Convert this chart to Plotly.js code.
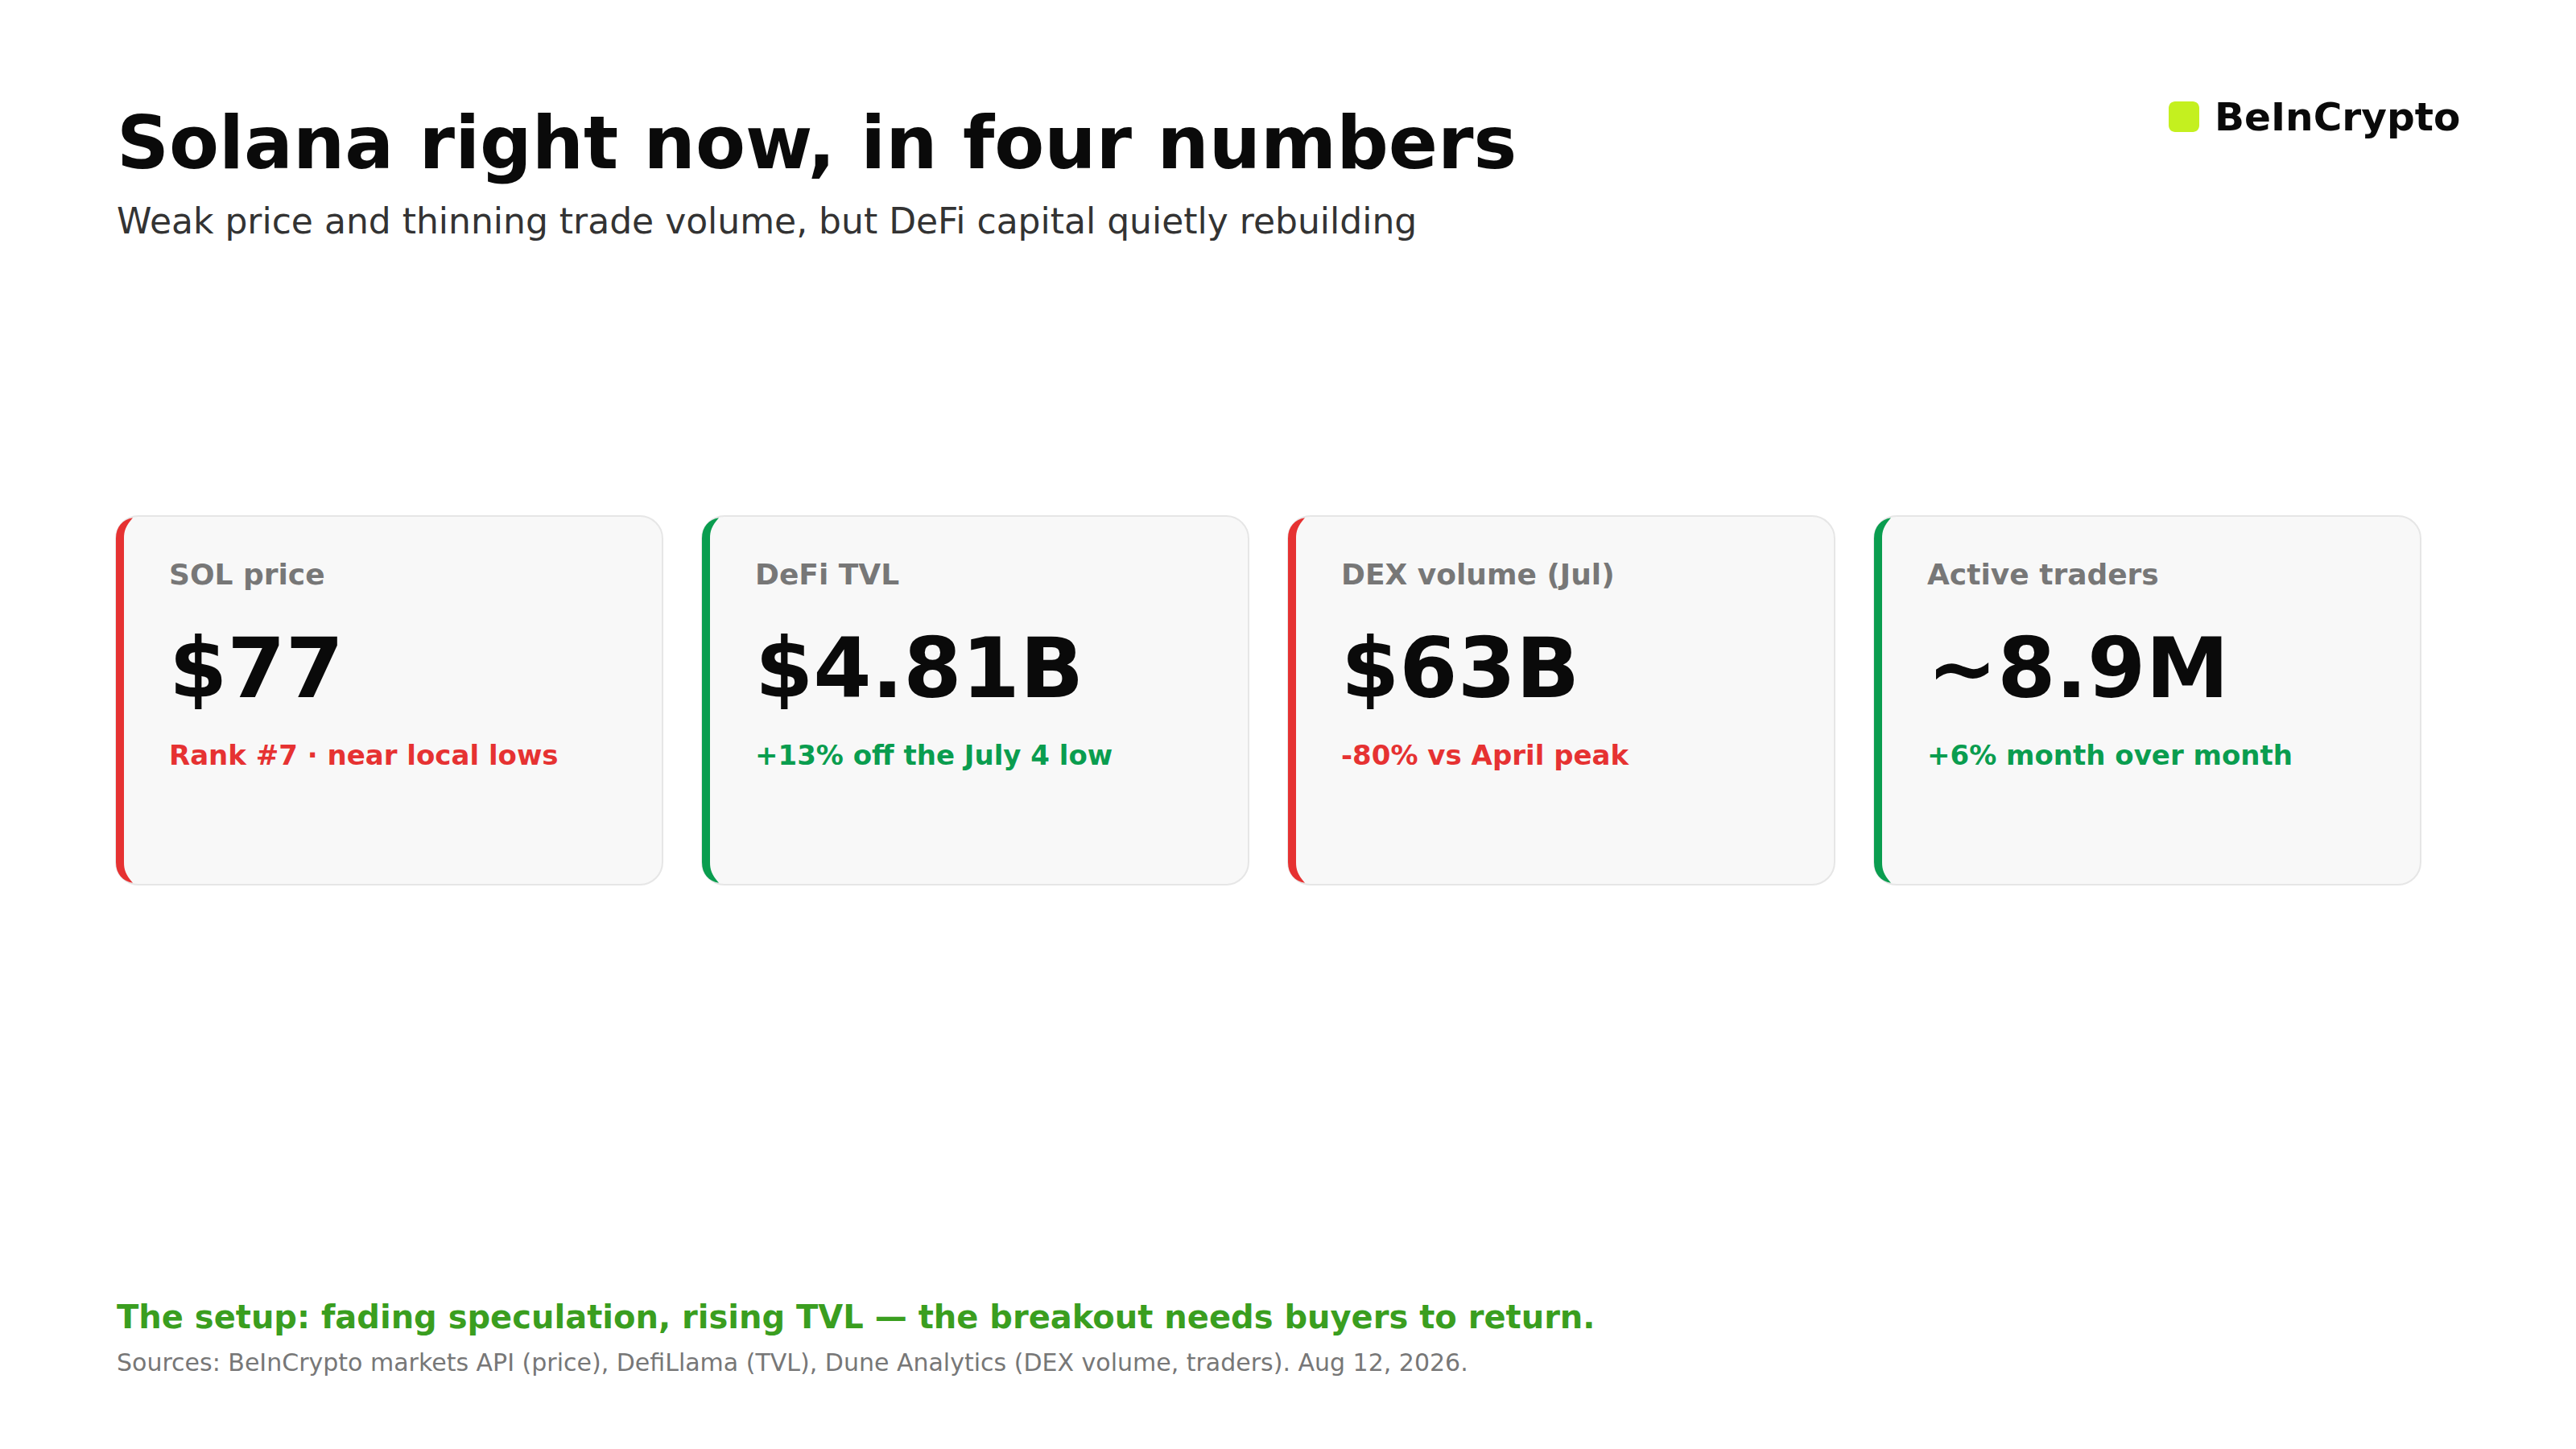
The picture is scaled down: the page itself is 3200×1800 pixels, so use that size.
<!DOCTYPE html>
<html>
<head>
<meta charset="utf-8">
<script src="https://cdn.plot.ly/plotly-3.0.1.min.js"></script>
<style>
  html, body { margin: 0; padding: 0; background: #ffffff; }
</style>
</head>
<body>
<div id="chart" style="width:3200px;height:1800px"></div>
<script>
var labels = ["SOL price", "DeFi TVL", "DEX volume (Jul)", "Active traders"];
var values = ["$77", "$4.81B", "$63B", "~8.9M"];
var notes = ["Rank #7 · near local lows", "+13% off the July 4 low", "-80% vs April peak", "+6% month over month"];
var trends = ["down", "up", "down", "up"];

var titleText = "Solana right now, in four numbers";
var subtitleText = "Weak price and thinning trade volume, but DeFi capital quietly rebuilding";
var takeawayText = "The setup: fading speculation, rising TVL — the breakout needs buyers to return.";
var sourceText = "Sources: BeInCrypto markets API (price), DefiLlama (TVL), Dune Analytics (DEX volume, traders). Aug 12, 2026.";
var brandText = "BeInCrypto";

var trendColor = { up: "#0a9d4f", down: "#e63232" };
var FONT = "DejaVu Sans, sans-serif";

var cardW = 679, cardGap = 49, cardLeft = 144, cardTop = 641, cardBottom = 1099, radius = 28, accent = 10;

function text(str, x, y, size, color, bold) {
  return {
    text: bold ? "<b>" + str + "</b>" : str,
    x: x, y: y, xref: "x", yref: "y",
    xanchor: "left", yanchor: "middle",
    showarrow: false, borderpad: 0,
    font: { family: FONT, size: size, color: color }
  };
}

// rounded rectangle as a path, the axes only know beziers
function roundRect(x0, y0, x1, y1, r) {
  var k = r * 0.45;
  return "M" + (x0 + r) + "," + y0 + " L" + (x1 - r) + "," + y0 +
    " C" + (x1 - k) + "," + y0 + " " + x1 + "," + (y0 + k) + " " + x1 + "," + (y0 + r) +
    " L" + x1 + "," + (y1 - r) +
    " C" + x1 + "," + (y1 - k) + " " + (x1 - k) + "," + y1 + " " + (x1 - r) + "," + y1 +
    " L" + (x0 + r) + "," + y1 +
    " C" + (x0 + k) + "," + y1 + " " + x0 + "," + (y1 - k) + " " + x0 + "," + (y1 - r) +
    " L" + x0 + "," + (y0 + r) +
    " C" + x0 + "," + (y0 + k) + " " + (x0 + k) + "," + y0 + " " + (x0 + r) + "," + y0 + " Z";
}

// left border of the card, tapers off into the corners
function accentPath(x0, y0, y1, r, w) {
  var k = r * 0.45, tipX = x0 + r * 0.75, tipDy = r * 0.08;
  return "M" + tipX + "," + (y0 + tipDy) +
    " C" + (x0 + k * 0.7) + "," + (y0 + tipDy * 2) + " " + x0 + "," + (y0 + k) + " " + x0 + "," + (y0 + r) +
    " L" + x0 + "," + (y1 - r) +
    " C" + x0 + "," + (y1 - k) + " " + (x0 + k * 0.7) + "," + (y1 - tipDy * 2) + " " + tipX + "," + (y1 - tipDy) +
    " C" + (x0 + w + 2) + "," + (y1 - k) + " " + (x0 + w) + "," + (y1 - k - 6) + " " + (x0 + w) + "," + (y1 - r) +
    " L" + (x0 + w) + "," + (y0 + r) +
    " C" + (x0 + w) + "," + (y0 + k + 6) + " " + (x0 + w + 2) + "," + (y0 + k) + " " + tipX + "," + (y0 + tipDy) + " Z";
}

var shapes = [];
var annotations = [
  text(titleText, 144, 177, 90.3, "#0a0a0a", true),
  text(subtitleText, 144, 274, 44, "#333333", false),
  text(takeawayText, 144, 1636, 40, "#3a9e1f", true),
  text(sourceText, 144, 1692, 30, "#777777", false),
  text(brandText, 2750, 145, 48.6, "#0a0a0a", true)
];

shapes.push({
  type: "path", xref: "x", yref: "y",
  path: roundRect(2694, 126, 2732, 164, 8),
  fillcolor: "#c4f01f", line: { width: 0 }
});

labels.forEach(function (label, i) {
  var x0 = cardLeft + i * (cardW + cardGap);
  var color = trendColor[trends[i]];
  shapes.push({
    type: "path", xref: "x", yref: "y",
    path: roundRect(x0, cardTop, x0 + cardW, cardBottom, radius),
    fillcolor: "#f8f8f8", line: { color: "#e6e6e6", width: 2 }
  });
  shapes.push({
    type: "path", xref: "x", yref: "y",
    path: accentPath(x0, cardTop, cardBottom, radius, accent),
    fillcolor: color, line: { width: 0 }
  });
  annotations.push(text(label, x0 + 65, 713, 36, "#777777", true));
  annotations.push(text(values[i], x0 + 65, 830, 104, "#0a0a0a", true));
  annotations.push(text(notes[i], x0 + 65, 938, 34, color, true));
});

var layout = {
  width: 3200,
  height: 1800,
  margin: { l: 0, r: 0, t: 0, b: 0 },
  paper_bgcolor: "#ffffff",
  plot_bgcolor: "#ffffff",
  showlegend: false,
  xaxis: { range: [0, 3200], visible: false, fixedrange: true },
  yaxis: { range: [1800, 0], visible: false, fixedrange: true },
  shapes: shapes,
  annotations: annotations
};

Plotly.newPlot("chart", [], layout, { displayModeBar: false, staticPlot: true });
</script>
</body>
</html>
